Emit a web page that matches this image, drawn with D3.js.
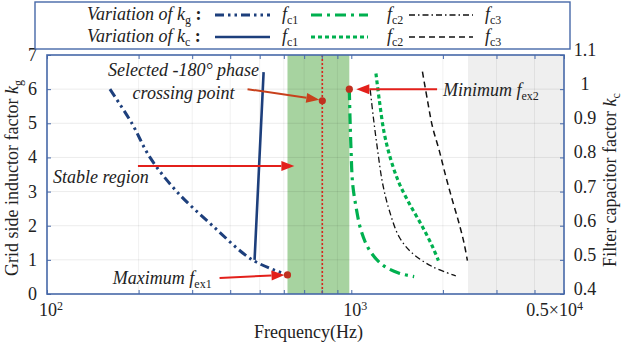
<!DOCTYPE html>
<html>
<head>
<meta charset="utf-8">
<script src="https://cdn.jsdelivr.net/npm/d3@7"></script>
<style>
  body { margin: 0; background: #fff; }
  svg { display: block; }
</style>
</head>
<body>
<div id="chart"></div>
<script>
// DATA
var freqTicks = [100, 1000, 5000];
var freqTickBase = ["10", "10", "0.5\u00d710"];
var freqTickExp = ["2", "3", "4"];
var kgTicks = [0, 1, 2, 3, 4, 5, 6, 7];
var kcTicks = [0.4, 0.5, 0.6, 0.7, 0.8, 0.9, 1, 1.1];

// variation of kg (left axis)
var kgFc1Freq = [161, 190, 218, 267, 350, 473, 617];
var kgFc1 = [6, 5, 4, 3, 2, 1, 0.56];
var kgFc2Freq = [985, 990, 998, 1010, 1036, 1076, 1146, 1267, 1437, 1609];
var kgFc2 = [6.0, 5.19, 4.22, 3.24, 2.56, 1.87, 1.29, 0.85, 0.61, 0.51];
var kgFc3Freq = [1154, 1181, 1220, 1267, 1332, 1437, 1589, 1848, 2205];
var kgFc3 = [5.98, 5.19, 4.22, 3.24, 2.46, 1.67, 1.19, 0.80, 0.53];

// variation of kc (right axis)
var kcFc1Freq = [515, 487, 481];
var kcFc1 = [1.05, 0.6, 0.5];
var kcFc2Freq = [1205, 1236, 1283, 1350, 1437, 1549, 1713, 1848, 1933];
var kcFc2 = [1.046, 0.968, 0.871, 0.792, 0.724, 0.666, 0.597, 0.539, 0.498];
var kcFc3Freq = [1713, 1779, 1848, 1943, 2045, 2148, 2260, 2347, 2407];
var kcFc3 = [1.051, 0.968, 0.890, 0.822, 0.744, 0.675, 0.607, 0.549, 0.498];

// regions and marked points
var stableBand = [617, 985];
var unstableBand = [2418, 5000];
var selectedFreq = 803, selectedKc = 0.966;
var maxFex1 = [617, 0.56];   // freq, kg
var minFex2 = [985, 1.0];    // freq, kc

// SET UP DIMENSIONS
var W = 622, H = 342;
var plot = { left: 47, right: 564, top: 55, bottom: 294 };

var navy = "#1d3f7c", frame = "#4668a8", green = "#00b04f", red = "#e3201b", dotRed = "#c0301f";
var serif = "'Liberation Serif', 'Times New Roman', Tinos, 'DejaVu Serif', serif";

var svg = d3.select("#chart").append("svg").attr("width", W).attr("height", H)
  .attr("font-family", serif).attr("fill", "#222");

// SCALES
var x = d3.scaleLog().domain([100, 5000]).range([plot.left, plot.right]);
var yL = d3.scaleLinear().domain([0, 7]).range([plot.bottom, plot.top]);
var yR = d3.scaleLinear().domain([0.4, 1.1]).range([plot.bottom, plot.top]);

// shaded regions
svg.append("rect")
  .attr("x", x(stableBand[0])).attr("y", plot.top)
  .attr("width", x(stableBand[1]) - x(stableBand[0])).attr("height", plot.bottom - plot.top)
  .attr("fill", "#a7d3a0");
svg.append("rect")
  .attr("x", x(unstableBand[0])).attr("y", plot.top)
  .attr("width", x(unstableBand[1]) - x(unstableBand[0])).attr("height", plot.bottom - plot.top)
  .attr("fill", "#efefef");

// grid
var minorTicks = [200, 300, 400, 500, 600, 700, 800, 900, 2000, 3000, 4000];
svg.append("g").selectAll("line").data(minorTicks).enter().append("line")
  .attr("x1", function(d) { return x(d); }).attr("x2", function(d) { return x(d); })
  .attr("y1", plot.top).attr("y2", plot.bottom)
  .attr("stroke", "#000").attr("stroke-opacity", 0.06).attr("stroke-width", 1);
svg.append("g").selectAll("line").data(kgTicks.slice(1, -1)).enter().append("line")
  .attr("x1", plot.left).attr("x2", plot.right)
  .attr("y1", function(d) { return yL(d); }).attr("y2", function(d) { return yL(d); })
  .attr("stroke", "#000").attr("stroke-opacity", 0.08).attr("stroke-width", 1);

// selected crossing frequency
svg.append("line")
  .attr("x1", x(selectedFreq)).attr("x2", x(selectedFreq))
  .attr("y1", plot.top).attr("y2", plot.bottom)
  .attr("stroke", "#d9261c").attr("stroke-width", 1.6).attr("stroke-dasharray", "2,2");

// CURVES
function drawCurve(fr, vals, yScale, color, width, dash) {
  var pts = fr.map(function(f, i) { return [x(f), yScale(vals[i])]; });
  svg.append("path")
    .attr("d", d3.line().curve(d3.curveCatmullRom)(pts))
    .attr("fill", "none").attr("stroke", color).attr("stroke-width", width)
    .attr("stroke-dasharray", dash || null);
}

var styles = {
  kg1: [navy, 3, "9,4,2.5,4,2.5,4"],
  kg2: [green, 3.2, "11,5,3,5"],
  kg3: ["#111", 1.3, "6,3,1.5,3"],
  kc1: [navy, 2.6, null],
  kc2: [green, 3.2, "4,3"],
  kc3: ["#111", 1.5, "6,4"]
};

drawCurve(kgFc1Freq, kgFc1, yL, styles.kg1[0], styles.kg1[1], styles.kg1[2]);
drawCurve(kgFc2Freq, kgFc2, yL, styles.kg2[0], styles.kg2[1], styles.kg2[2]);
drawCurve(kgFc3Freq, kgFc3, yL, styles.kg3[0], styles.kg3[1], styles.kg3[2]);
drawCurve(kcFc1Freq, kcFc1, yR, styles.kc1[0], styles.kc1[1], styles.kc1[2]);
drawCurve(kcFc2Freq, kcFc2, yR, styles.kc2[0], styles.kc2[1], styles.kc2[2]);
drawCurve(kcFc3Freq, kcFc3, yR, styles.kc3[0], styles.kc3[1], styles.kc3[2]);

// AXES
var axisG = svg.append("g");
axisG.append("g").attr("transform", "translate(0," + plot.bottom + ")")
  .call(d3.axisTop(x).tickValues(minorTicks.concat(freqTicks)).tickSize(4).tickFormat(""));
axisG.append("g").attr("transform", "translate(0," + plot.top + ")")
  .call(d3.axisBottom(x).tickValues(minorTicks.concat(freqTicks)).tickSize(4).tickFormat(""));
axisG.append("g").attr("transform", "translate(" + plot.left + ",0)")
  .call(d3.axisRight(yL).tickValues(kgTicks).tickSize(4).tickFormat(""));
axisG.append("g").attr("transform", "translate(" + plot.right + ",0)")
  .call(d3.axisLeft(yR).tickValues(kcTicks).tickSize(4).tickFormat(""));
axisG.selectAll(".domain").remove();
axisG.selectAll("line").attr("stroke", frame).attr("stroke-width", 1);

svg.append("rect")
  .attr("x", plot.left).attr("y", plot.top)
  .attr("width", plot.right - plot.left).attr("height", plot.bottom - plot.top)
  .attr("fill", "none").attr("stroke", frame).attr("stroke-width", 1.6);

// tick labels
svg.append("g").selectAll("text").data(kgTicks).enter().append("text")
  .attr("x", plot.left - 10).attr("y", function(d) { return yL(d); })
  .attr("dy", "0.33em").attr("text-anchor", "end").attr("font-size", 18)
  .text(function(d) { return d; });
svg.append("g").selectAll("text").data(kcTicks).enter().append("text")
  .attr("x", plot.right + 21).attr("y", function(d) { return yR(d) - 5; })
  .attr("dy", "0.33em").attr("text-anchor", "middle").attr("font-size", 18)
  .text(function(d) { return d3.format("~g")(d); });

freqTicks.forEach(function(f, i) {
  var last = i === freqTicks.length - 1;
  var t = svg.append("text")
    .attr("x", last ? x(f) + 19 : x(f) + 4).attr("y", plot.bottom + 22)
    .attr("text-anchor", last ? "end" : "middle").attr("font-size", 18);
  t.append("tspan").text(freqTickBase[i]);
  t.append("tspan").attr("font-size", 12).attr("dy", -6).text(freqTickExp[i]);
});

// axis titles
svg.append("text").attr("x", (plot.left + plot.right) / 2 + 3).attr("y", 338)
  .attr("text-anchor", "middle").attr("font-size", 18).text("Frequency(Hz)");

function kLabel(sel, sub) {
  sel.append("tspan").attr("font-style", "italic").text("k");
  sel.append("tspan").attr("font-size", 12).attr("dy", 4).text(sub);
}
var lt = svg.append("text").attr("transform", "translate(18,178) rotate(-90)")
  .attr("text-anchor", "middle").attr("font-size", 18);
lt.append("tspan").text("Grid side inductor factor ");
kLabel(lt, "g");
var rt = svg.append("text").attr("transform", "translate(616,180) rotate(-90)")
  .attr("text-anchor", "middle").attr("font-size", 18);
rt.append("tspan").text("Filter capacitor factor ");
kLabel(rt, "c");

// ARROWS AND ANNOTATIONS
function arrow(x1, y1, x2, y2, color) {
  var ang = Math.atan2(y2 - y1, x2 - x1), hl = 13, hw = 5;
  var bx = x2 - hl * Math.cos(ang), by = y2 - hl * Math.sin(ang);
  svg.append("line").attr("x1", x1).attr("y1", y1).attr("x2", bx).attr("y2", by)
    .attr("stroke", color).attr("stroke-width", 2);
  var px = -Math.sin(ang) * hw, py = Math.cos(ang) * hw;
  svg.append("path")
    .attr("d", "M" + x2 + "," + y2 + "L" + (bx + px) + "," + (by + py) + "L" + (bx - px) + "," + (by - py) + "Z")
    .attr("fill", color);
}

arrow(x(199), yL(3.75), x(650), yL(3.75), red);
arrow(x(456), yR(1.0), x(selectedFreq) - 3, yR(selectedKc) - 1, "#c8401c");
arrow(x(369), yL(0.47), x(maxFex1[0]) - 3, yL(maxFex1[1]), red);
arrow(x(1914), yR(minFex2[1]), x(minFex2[0]) + 7, yR(minFex2[1]), red);

// marked points
[[x(maxFex1[0]), yL(maxFex1[1])], [x(selectedFreq), yR(selectedKc)], [x(minFex2[0]), yR(minFex2[1])]]
  .forEach(function(p) {
    svg.append("circle").attr("cx", p[0]).attr("cy", p[1]).attr("r", 3.6).attr("fill", dotRed);
  });

function note(xp, yp, anchor, parts) {
  var t = svg.append("text").attr("x", xp).attr("y", yp).attr("text-anchor", anchor)
    .attr("font-size", 18).attr("font-style", "italic");
  parts.forEach(function(p) {
    var s = t.append("tspan").text(p.t);
    if (p.sub) s.attr("font-size", 12).attr("font-style", "normal").attr("dy", 4);
  });
  return t;
}
note(x(281), yL(6.39), "middle", [{ t: "Selected -180\u00b0 phase" }]);
note(x(281), yL(5.71), "middle", [{ t: "crossing point" }]);
note(x(104.6), yL(3.25), "start", [{ t: "Stable region" }]);
note(x(164.6), yL(0.29), "start", [{ t: "Maximum " }, { t: "f" }, { t: "ex1", sub: true }]);
note(x(2002), yL(5.8), "start", [{ t: "Minimum " }, { t: "f" }, { t: "ex2", sub: true }]);

// LEGEND
svg.append("rect").attr("x", 35).attr("y", 2).attr("width", 535).attr("height", 47)
  .attr("fill", "#fff").attr("stroke", frame).attr("stroke-width", 1.4);

var legendRows = [
  { sub: "g", keys: ["kg1", "kg2", "kg3"], y: 20 },
  { sub: "c", keys: ["kc1", "kc2", "kc3"], y: 42 }
];
var sampleX = [[215, 270], [311, 368], [409, 473]];
var fLabelX = [282, 387, 485];
var fSubs = ["c1", "c2", "c3"];

legendRows.forEach(function(row) {
  var t = svg.append("text").attr("x", 87).attr("y", row.y).attr("font-size", 18)
    .attr("font-style", "italic");
  t.append("tspan").text("Variation of k");
  t.append("tspan").attr("font-size", 12).attr("font-style", "normal").attr("dy", 4).text(row.sub);
  t.append("tspan").attr("font-style", "normal").attr("font-weight", "bold").attr("dy", -4).text(" :");
  row.keys.forEach(function(k, i) {
    var st = styles[k];
    svg.append("line")
      .attr("x1", sampleX[i][0]).attr("x2", sampleX[i][1])
      .attr("y1", row.y - 5).attr("y2", row.y - 5)
      .attr("stroke", st[0]).attr("stroke-width", st[1]).attr("stroke-dasharray", st[2]);
    var ft = svg.append("text").attr("x", fLabelX[i]).attr("y", row.y).attr("font-size", 18);
    ft.append("tspan").attr("font-style", "italic").text("f");
    ft.append("tspan").attr("font-size", 12).attr("dy", 4).text(fSubs[i]);
  });
});
</script>
</body>
</html>
